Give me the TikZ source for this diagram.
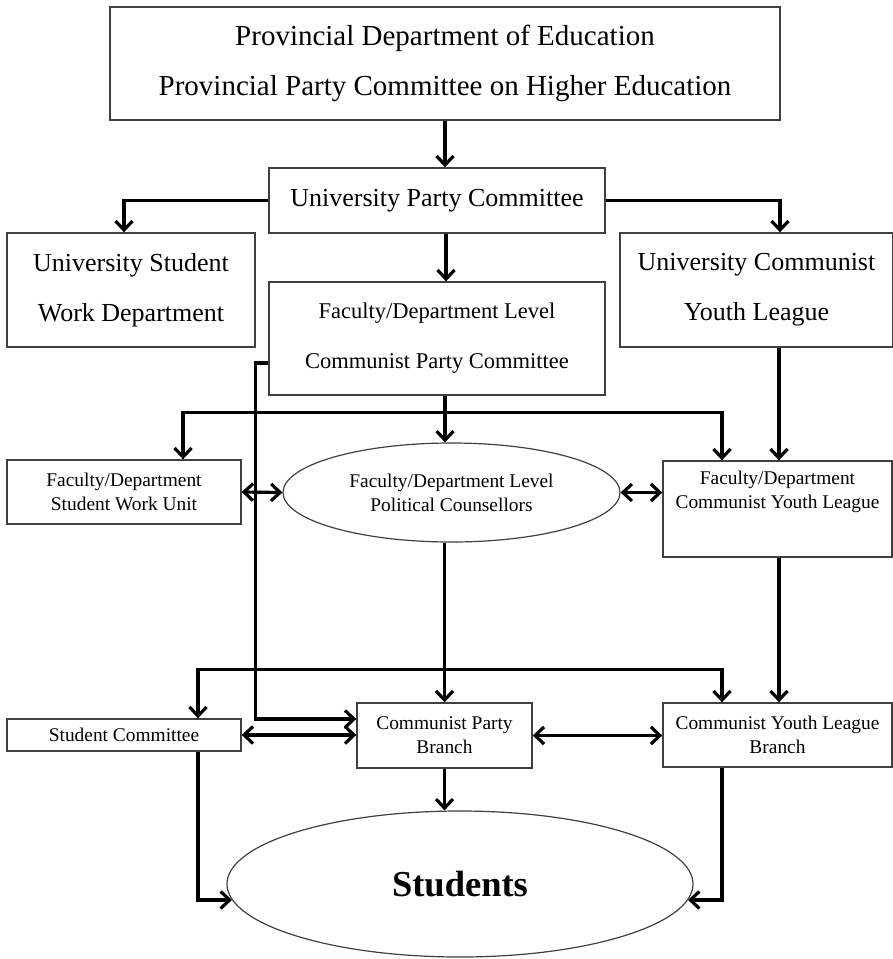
\documentclass[tikz,border=0pt]{standalone}
\usepackage{fontspec}
\setmainfont{Liberation Serif}
\usetikzlibrary{arrows.meta,shapes.geometric}
\begin{document}
\begin{tikzpicture}[x=1pt,y=-1pt,
  box/.style={draw=black!75,line width=1.4pt,inner sep=0pt,align=center},
  oval/.style={ellipse,draw=black!75,line width=1.2pt,inner sep=0pt,align=center},
  big/.style={font=\fontsize{29}{50}\selectfont},
  mid/.style={font=\fontsize{26}{50}\selectfont},
  fdl/.style={font=\fontsize{22.5}{50}\selectfont},
  sml/.style={font=\fontsize{19.4}{24}\selectfont},
  conn/.style={line width=3.2pt},
  >={Straight Barb[length=9pt,width=17pt]}]
\useasboundingbox (0,0) rectangle (893,959);
% nodes
\node[box,big,minimum width=670pt,minimum height=113pt] (top) at (445,63.5) {Provincial Department of Education\\Provincial Party Committee on Higher Education};
\node[box,mid,minimum width=336pt,minimum height=65pt] (upc) at (437,200.5) {University Party Committee};
\node[box,mid,minimum width=248pt,minimum height=114pt] (uswd) at (131,290) {University Student\\Work Department};
\node[box,mid,minimum width=273pt,minimum height=114pt] (ucyl) at (756.5,290) {University Communist\\Youth League};
\node[box,fdl,minimum width=336pt,minimum height=113pt] (fdlcpc) at (437,338.5) {Faculty/Department Level\\Communist Party Committee};
\node[box,sml,minimum width=234pt,minimum height=64pt] (swu) at (124,492) {Faculty/Department\\Student Work Unit};
\node[oval,sml,minimum width=337pt,minimum height=99pt] (fdpc) at (451.5,492.5) {Faculty/Department Level\\Political Counsellors};
\node[box,minimum width=229pt,minimum height=96pt] (fdcyl) at (777.5,509) {};
\node[sml,align=center,inner sep=0pt] (fdcyltext) at (777.5,491.5) {Faculty/Department\\Communist Youth League};
\node[box,sml,minimum width=234pt,minimum height=32pt] (sc) at (124,735) {Student Committee};
\node[box,sml,minimum width=175pt,minimum height=65pt] (cpb) at (444.5,735.5) {Communist Party\\Branch};
\node[box,sml,minimum width=229pt,minimum height=64pt] (cylb) at (777.5,735) {Communist Youth League\\Branch};
\node[oval,font=\fontsize{36.5}{40}\bfseries\selectfont,minimum width=466pt,minimum height=146pt] (stu) at (460,884) {Students};
% helper coordinates
\coordinate (a1) at ([xshift=8pt]fdlcpc.south);
\coordinate (j1) at ([yshift=-17pt]a1);
\coordinate (a2) at ([xshift=22.5pt]ucyl.south);
\coordinate (b1) at ([yshift=-24.5pt]fdlcpc.west);
\coordinate (b2) at ([xshift=-13pt]b1);
\coordinate (a3) at (cpb.north |- fdpc.south);
\coordinate (j2) at ([yshift=33pt]cpb.north);
% connectors
\draw[conn,->] (top.south) -- (top.south |- upc.north);
\draw[conn,->] (upc.west) -| ([xshift=-7pt]uswd.north);
\draw[conn,->] (upc.east) -| ([xshift=23.5pt]ucyl.north);
\draw[conn,->] ([xshift=9pt]upc.south) -- ([xshift=9pt]fdlcpc.north);
\draw[conn,->] (a1) -- (a1 |- fdpc.north);
\draw[conn,->] (j1) -| ([xshift=59pt]swu.north);
\draw[conn,->] (j1) -| ([xshift=-55.5pt]fdcyl.north);
\draw[conn,->] (a2) -- (a2 |- fdcyl.north);
\draw[conn,<->] (swu.east) -- (fdpc.west);
\draw[conn,<->] (fdpc.east) -- (fdpc.east -| fdcyl.west);
\draw[conn,->] (b1) -- (b2) |- ([yshift=16.5pt]cpb.west);
\draw[conn,->] (a3) -- (cpb.north);
\draw[conn,->] (j2) -| ([xshift=74pt]sc.north);
\draw[conn,->] (j2) -| ([xshift=-55.5pt]cylb.north);
\draw[conn,->] ([xshift=1.5pt]fdcyl.south) -- ([xshift=1.5pt]cylb.north);
\draw[conn,<->] (sc.east) -- (sc.east -| cpb.west);
\draw[conn,<->] (cpb.east) -- (cpb.east -| cylb.west);
\draw[conn,->] (cpb.south) -- (cpb.south |- stu.north);
\draw[conn,->] ([xshift=74pt]sc.south) |- (stu.184);
\draw[conn,->] ([xshift=-55.5pt]cylb.south) |- (stu.356);
\end{tikzpicture}
\end{document}
